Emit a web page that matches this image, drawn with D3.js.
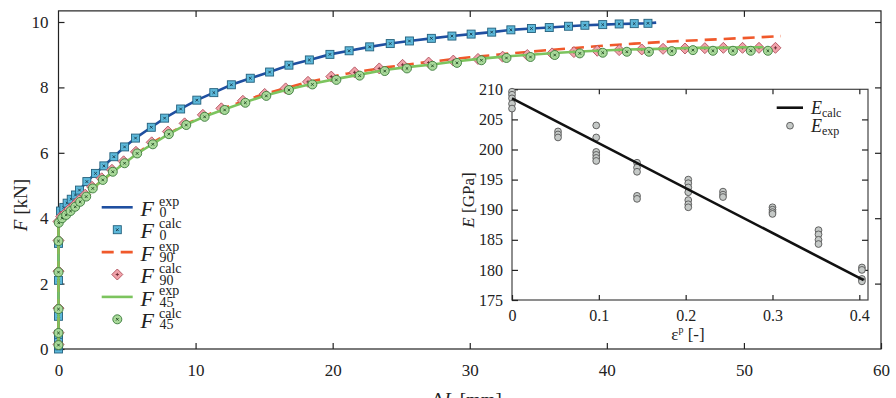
<!DOCTYPE html>
<html>
<head>
<meta charset="utf-8">
<script src="https://cdn.jsdelivr.net/npm/d3@7"></script>
<style>
  body { margin: 0; background: #fff; }
  svg text { font-family: "Liberation Serif", "Times New Roman", "DejaVu Serif", serif !important; }
</style>
</head>
<body>
<div id="chart"></div>
<script>
// ---- data ----
const xTicks = [0, 10, 20, 30, 40, 50, 60];
const yTicks = [0, 2, 4, 6, 8, 10];

// F0 : experiment (line) and calculation (squares)
const f0ExpX = [0, 0, 0.05, 0.15, 0.39, 0.63, 0.93, 1.24, 1.53, 2.07, 2.7, 3.31, 4.04, 4.82, 5.62, 6.77, 7.74, 8.91, 10.09, 11.33, 12.61, 13.99, 15.4, 16.81, 18.3, 19.8, 21.2, 22.7, 24.2, 25.6, 27.2, 28.7, 30.1, 31.6, 33.0, 34.5, 35.8, 37.2, 38.4, 39.7, 40.9, 42.0, 43.0, 43.6];
const f0ExpY = [0, 4.0, 4.12, 4.22, 4.33, 4.46, 4.58, 4.71, 4.86, 5.12, 5.37, 5.6, 5.88, 6.18, 6.45, 6.78, 7.06, 7.34, 7.61, 7.84, 8.08, 8.28, 8.47, 8.68, 8.84, 9.01, 9.12, 9.24, 9.34, 9.42, 9.5, 9.57, 9.63, 9.69, 9.76, 9.8, 9.83, 9.87, 9.9, 9.92, 9.94, 9.95, 9.96, 9.98];
const f0CalcX = [0, 0, 0, 0, 0, 0, 0, 0.15, 0.39, 0.63, 0.93, 1.24, 1.53, 2.07, 2.7, 3.31, 4.04, 4.82, 5.62, 6.77, 7.74, 8.91, 10.09, 11.33, 12.61, 13.99, 15.4, 16.81, 18.3, 19.8, 21.2, 22.7, 24.2, 25.6, 27.2, 28.7, 30.1, 31.6, 33.0, 34.5, 35.8, 37.2, 38.4, 39.7, 40.9, 42.0, 43.0];
const f0CalcY = [0, 0.1, 0.27, 0.45, 1.0, 2.1, 3.23, 4.22, 4.33, 4.46, 4.58, 4.71, 4.86, 5.12, 5.37, 5.6, 5.88, 6.18, 6.45, 6.78, 7.06, 7.34, 7.61, 7.84, 8.08, 8.28, 8.47, 8.68, 8.84, 9.01, 9.12, 9.24, 9.34, 9.42, 9.5, 9.57, 9.63, 9.69, 9.76, 9.8, 9.83, 9.87, 9.9, 9.92, 9.94, 9.95, 9.96];

// F90 : experiment (dashed) and calculation (diamonds)
const f90ExpX = [0, 0, 0.05, 0.3, 1.2, 2.5, 4.82, 6.8, 9.3, 12, 15, 18, 21, 24, 27, 30, 33, 36, 39, 42, 45, 48, 51, 52.7];
const f90ExpY = [0, 3.8, 3.9, 4.02, 4.36, 4.92, 5.7, 6.3, 6.88, 7.36, 7.8, 8.14, 8.42, 8.62, 8.78, 8.92, 9.04, 9.15, 9.25, 9.34, 9.41, 9.47, 9.53, 9.57];
const f90CalcX = [0, 0, 0, 0, 0, 0, 0.2, 0.5, 0.8, 1.15, 1.5, 1.95, 2.45, 3.15, 3.9, 4.75, 5.65, 6.8, 7.98, 9.2, 10.53, 11.88, 13.45, 15.04, 16.57, 18.2, 19.9, 21.6, 23.4, 25.1, 27.0, 28.8, 30.6, 32.4, 34.2, 36.0, 37.6, 39.3, 40.9, 42.55, 44.1, 45.7, 47.15, 48.5, 49.9, 51.1, 52.3];
const f90CalcY = [0.14, 0.5, 1.25, 2.38, 3.32, 3.9, 4.05, 4.15, 4.28, 4.4, 4.55, 4.72, 4.96, 5.22, 5.48, 5.74, 6.03, 6.32, 6.65, 6.9, 7.16, 7.36, 7.59, 7.8, 7.97, 8.17, 8.33, 8.46, 8.58, 8.69, 8.76, 8.82, 8.87, 8.94, 8.99, 9.04, 9.08, 9.12, 9.14, 9.16, 9.18, 9.19, 9.2, 9.21, 9.21, 9.21, 9.21];

// F45 : experiment (line) and calculation (circles)
const f45ExpX = [0, 0, 0.05, 0.27, 0.56, 0.88, 1.22, 1.58, 2.02, 2.5, 3.23, 3.96, 4.82, 5.74, 6.88, 8.05, 9.32, 10.66, 12.12, 13.63, 15.16, 16.81, 18.52, 20.27, 21.97, 23.8, 25.42, 27.28, 29.07, 30.85, 32.68, 34.43, 36.2, 38.03, 39.7, 41.46, 43.07, 44.74, 46.28, 47.74, 49.2, 50.5, 51.4];
const f45ExpY = [0, 3.8, 3.9, 4.0, 4.1, 4.22, 4.35, 4.5, 4.66, 4.91, 5.17, 5.42, 5.68, 5.98, 6.27, 6.58, 6.86, 7.11, 7.33, 7.55, 7.76, 7.94, 8.11, 8.26, 8.39, 8.53, 8.62, 8.7, 8.8, 8.88, 8.95, 9.0, 9.05, 9.1, 9.13, 9.16, 9.17, 9.19, 9.21, 9.21, 9.22, 9.23, 9.23];
const f45CalcX = [0, 0, 0, 0, 0, 0.02, 0.27, 0.56, 0.88, 1.22, 1.58, 2.02, 2.5, 3.23, 3.96, 4.82, 5.74, 6.88, 8.05, 9.32, 10.66, 12.12, 13.63, 15.16, 16.81, 18.52, 20.27, 21.97, 23.8, 25.42, 27.28, 29.07, 30.85, 32.68, 34.43, 36.2, 38.03, 39.7, 41.46, 43.07, 44.74, 46.28, 47.74, 49.2, 50.5, 51.75];
const f45CalcY = [0.12, 0.49, 1.22, 2.35, 3.3, 3.86, 4.0, 4.1, 4.22, 4.35, 4.5, 4.66, 4.91, 5.17, 5.42, 5.68, 5.98, 6.26, 6.57, 6.85, 7.1, 7.31, 7.53, 7.74, 7.92, 8.09, 8.23, 8.36, 8.5, 8.58, 8.66, 8.75, 8.83, 8.9, 8.93, 8.99, 9.04, 9.06, 9.09, 9.09, 9.11, 9.14, 9.12, 9.12, 9.12, 9.12];

// inset: Young's modulus vs plastic strain
const epsTicks = [0, 0.1, 0.2, 0.3, 0.4];
const eTicks = [175, 180, 185, 190, 195, 200, 205, 210];
const epsExp = [0, 0, 0, 0, 0,
  0.053, 0.053, 0.053,
  0.097, 0.097, 0.097, 0.097, 0.097, 0.097,
  0.144, 0.144, 0.144, 0.144, 0.144,
  0.203, 0.203, 0.203, 0.203, 0.203, 0.203, 0.203,
  0.243, 0.243, 0.243,
  0.3, 0.3, 0.3, 0.3,
  0.353, 0.353, 0.353, 0.353,
  0.403, 0.403, 0.403, 0.403];
const eExp = [209.6, 209.1, 208.5, 207.6, 206.8,
  203, 202.5, 202,
  204, 202, 199.6, 199.1, 198.6, 198.1,
  197.8, 197, 196.3, 192.3, 191.8,
  195, 194.4, 193.7, 192.9, 191.6, 190.9, 190.4,
  193, 192.5, 192.1,
  190.4, 190, 189.6, 189.3,
  186.6, 185.9, 185, 184.3,
  180.4, 180, 178.5, 178.1];
const epsCalc = [0, 0.405];
const eCalc = [208.5, 178.3];

// ---- drawing ----
const W = 896, H = 398;
const svg = d3.select("#chart").append("svg").attr("width", W).attr("height", H);

const x = d3.scaleLinear().domain([0, 60]).range([58.5, 881]);
const y = d3.scaleLinear().domain([0, 10]).range([349, 22]);
const yTopFrame = 10.34;

const blue = "#1f4fa0", orange = "#f0592b", green = "#7cc45e";

// frame
svg.append("rect")
  .attr("x", x(0)).attr("y", y(yTopFrame))
  .attr("width", x(60) - x(0)).attr("height", y(0) - y(yTopFrame))
  .attr("fill", "none").attr("stroke", "#222").attr("stroke-width", 1.2);

function styleAxis(g, size) {
  g.select(".domain").remove();
  g.selectAll(".tick line").attr("stroke", "#222").attr("stroke-width", 1.2);
  g.selectAll("text").attr("font-size", size).attr("fill", "#222");
}

svg.append("g").attr("transform", `translate(0,${y(0)})`)
  .call(d3.axisBottom(x).tickValues(xTicks).tickSize(-6).tickPadding(15).tickFormat(d3.format("d")))
  .call(g => styleAxis(g, 17));
svg.append("g").attr("transform", `translate(0,${y(yTopFrame)})`)
  .call(d3.axisTop(x).tickValues(xTicks.slice(1, -1)).tickSize(-6).tickFormat(""))
  .call(g => styleAxis(g, 17));
svg.append("g").attr("transform", `translate(${x(0)},0)`)
  .call(d3.axisLeft(y).tickValues(yTicks).tickSize(-6).tickPadding(10).tickFormat(d3.format("d")))
  .call(g => styleAxis(g, 17));
svg.append("g").attr("transform", `translate(${x(60)},0)`)
  .call(d3.axisRight(y).tickValues(yTicks.slice(1)).tickSize(-6).tickFormat(""))
  .call(g => styleAxis(g, 17));

// axis titles
const yt = svg.append("text").attr("transform", "translate(27,205) rotate(-90)")
  .attr("text-anchor", "middle").attr("font-size", 19).attr("fill", "#222");
yt.append("tspan").attr("font-style", "italic").text("F");
yt.append("tspan").text(" [kN]");
const xt = svg.append("text").attr("x", 467).attr("y", 406)
  .attr("text-anchor", "middle").attr("font-size", 19).attr("fill", "#222");
xt.append("tspan").text("Δ");
xt.append("tspan").attr("font-style", "italic").text("L");
xt.append("tspan").text(" [mm]");

const zip = (xs, ys) => xs.map((v, i) => [v, ys[i]]);
const line = d3.line().x(d => x(d[0])).y(d => y(d[1]));

// markers
function square(g, s) {
  const h = s / 2;
  g.append("rect").attr("x", -h).attr("y", -h).attr("width", s).attr("height", s)
    .attr("fill", "#5cb8da").attr("stroke", "#24607c").attr("stroke-width", 0.9);
  g.append("path").attr("d", "M-1.3,-1.3L1.3,1.3M-1.3,1.3L1.3,-1.3").attr("stroke", "#173a4a").attr("stroke-width", 0.9);
}
function diamond(g, s) {
  g.append("path").attr("d", `M0,${-s}L${s},0L0,${s}L${-s},0Z`)
    .attr("fill", "#f1a3aa").attr("stroke", "#b0505c").attr("stroke-width", 0.9);
  g.append("path").attr("d", "M-1.6,0L1.6,0M0,-1.6L0,1.6").attr("stroke", "#6b2a32").attr("stroke-width", 0.9);
}
function circle(g, r) {
  g.append("circle").attr("r", r)
    .attr("fill", "#a9d99a").attr("stroke", "#3b7a3b").attr("stroke-width", 0.9);
  g.append("path").attr("d", "M-1.3,-1.3L1.3,1.3M-1.3,1.3L1.3,-1.3").attr("stroke", "#234a23").attr("stroke-width", 0.9);
}
function drawMarkers(pts, fn, size) {
  svg.append("g").selectAll("g").data(pts).enter().append("g")
    .attr("transform", d => `translate(${x(d[0])},${y(d[1])})`)
    .each(function () { fn(d3.select(this), size); });
}

// F0
svg.append("path").datum(zip(f0ExpX, f0ExpY)).attr("d", line)
  .attr("fill", "none").attr("stroke", blue).attr("stroke-width", 2.6);
drawMarkers(zip(f0CalcX, f0CalcY), square, 8);
// F90
svg.append("path").datum(zip(f90ExpX, f90ExpY)).attr("d", line)
  .attr("fill", "none").attr("stroke", orange).attr("stroke-width", 2.6).attr("stroke-dasharray", "12,7");
drawMarkers(zip(f90CalcX, f90CalcY), diamond, 5.5);
// F45
svg.append("path").datum(zip(f45ExpX, f45ExpY)).attr("d", line)
  .attr("fill", "none").attr("stroke", green).attr("stroke-width", 2.6);
drawMarkers(zip(f45CalcX, f45CalcY), circle, 4.5);

// legend
const legItems = [
  { kind: "line", color: blue, dash: null, sup: "exp", sub: "0" },
  { kind: "square", sup: "calc", sub: "0" },
  { kind: "line", color: orange, dash: "12,7", sup: "exp", sub: "90" },
  { kind: "diamond", sup: "calc", sub: "90" },
  { kind: "line", color: green, dash: null, sup: "exp", sub: "45" },
  { kind: "circle", sup: "calc", sub: "45" }
];
const leg = svg.append("g");
legItems.forEach((it, i) => {
  const y0 = 207.3 + 22.4 * i;
  if (it.kind === "line") {
    leg.append("line").attr("x1", 101.7).attr("x2", 132.7).attr("y1", y0).attr("y2", y0)
      .attr("stroke", it.color).attr("stroke-width", 2.6).attr("stroke-dasharray", it.dash);
  } else {
    const g = leg.append("g").attr("transform", `translate(117.3,${y0})`);
    if (it.kind === "square") square(g, 8);
    if (it.kind === "diamond") diamond(g, 5.5);
    if (it.kind === "circle") circle(g, 4.5);
  }
  leg.append("text").attr("x", 140.5).attr("y", y0 + 8.7).attr("font-size", 22)
    .attr("font-style", "italic").attr("fill", "#222").text("F");
  leg.append("text").attr("x", 159).attr("y", y0 - 1.5).attr("font-size", 14).attr("fill", "#222").text(it.sup);
  leg.append("text").attr("x", 159.5).attr("y", y0 + 10).attr("font-size", 14).attr("fill", "#222").text(it.sub);
});

// ---- inset ----
const ix = d3.scaleLinear().domain([0, 0.41]).range([512, 868]);
const iy = d3.scaleLinear().domain([175, 210]).range([300, 89.3]);

svg.append("rect")
  .attr("x", ix(0)).attr("y", iy(210))
  .attr("width", ix(0.41) - ix(0)).attr("height", iy(175) - iy(210))
  .attr("fill", "#fff").attr("stroke", "#444").attr("stroke-width", 1.2);

svg.append("g").attr("transform", `translate(0,${iy(175)})`)
  .call(d3.axisBottom(ix).tickValues(epsTicks).tickSize(-5).tickPadding(10).tickFormat(d => d === 0 ? "0" : d3.format(".1f")(d)))
  .call(g => styleAxis(g, 16));
svg.append("g").attr("transform", `translate(0,${iy(210)})`)
  .call(d3.axisTop(ix).tickValues(epsTicks.slice(1)).tickSize(-5).tickFormat(""))
  .call(g => styleAxis(g, 16));
svg.append("g").attr("transform", `translate(${ix(0)},0)`)
  .call(d3.axisLeft(iy).tickValues(eTicks).tickSize(-6).tickPadding(9).tickFormat(d3.format("d")))
  .call(g => styleAxis(g, 16));
svg.append("g").attr("transform", `translate(${ix(0.41)},0)`)
  .call(d3.axisRight(iy).tickValues(eTicks.slice(1, -1)).tickSize(-6).tickFormat(""))
  .call(g => styleAxis(g, 16));

svg.append("g").selectAll("circle").data(zip(epsExp, eExp)).enter().append("circle")
  .attr("cx", d => ix(d[0])).attr("cy", d => iy(d[1])).attr("r", 3.4)
  .attr("fill", "#c5c9c7").attr("stroke", "#555").attr("stroke-width", 0.9);
svg.append("path").datum(zip(epsCalc, eCalc))
  .attr("d", d3.line().x(d => ix(d[0])).y(d => iy(d[1])))
  .attr("fill", "none").attr("stroke", "#111").attr("stroke-width", 2.6);

// inset titles
const it1 = svg.append("text").attr("transform", "translate(474,200) rotate(-90)")
  .attr("text-anchor", "middle").attr("font-size", 17).attr("fill", "#222");
it1.append("tspan").attr("font-style", "italic").text("E");
it1.append("tspan").text(" [GPa]");
const it2 = svg.append("text").attr("x", 688).attr("y", 340)
  .attr("text-anchor", "middle").attr("font-size", 17).attr("fill", "#222");
it2.append("tspan").text("ε");
it2.append("tspan").attr("font-size", 10).attr("dy", -7).text("p");
it2.append("tspan").attr("dy", 7).text(" [-]");

// inset legend
svg.append("line").attr("x1", 776.7).attr("x2", 803).attr("y1", 107.7).attr("y2", 107.7)
  .attr("stroke", "#111").attr("stroke-width", 2.6);
svg.append("circle").attr("cx", 790).attr("cy", 125.7).attr("r", 3.4)
  .attr("fill", "#c5c9c7").attr("stroke", "#555").attr("stroke-width", 0.9);
[["calc", 113.5], ["exp", 131.5]].forEach(([s, by]) => {
  const t = svg.append("text").attr("x", 811).attr("y", by).attr("font-size", 18).attr("fill", "#222");
  t.append("tspan").attr("font-style", "italic").text("E");
  t.append("tspan").attr("font-size", 12).attr("dy", 3).text(s);
});
</script>
</body>
</html>
